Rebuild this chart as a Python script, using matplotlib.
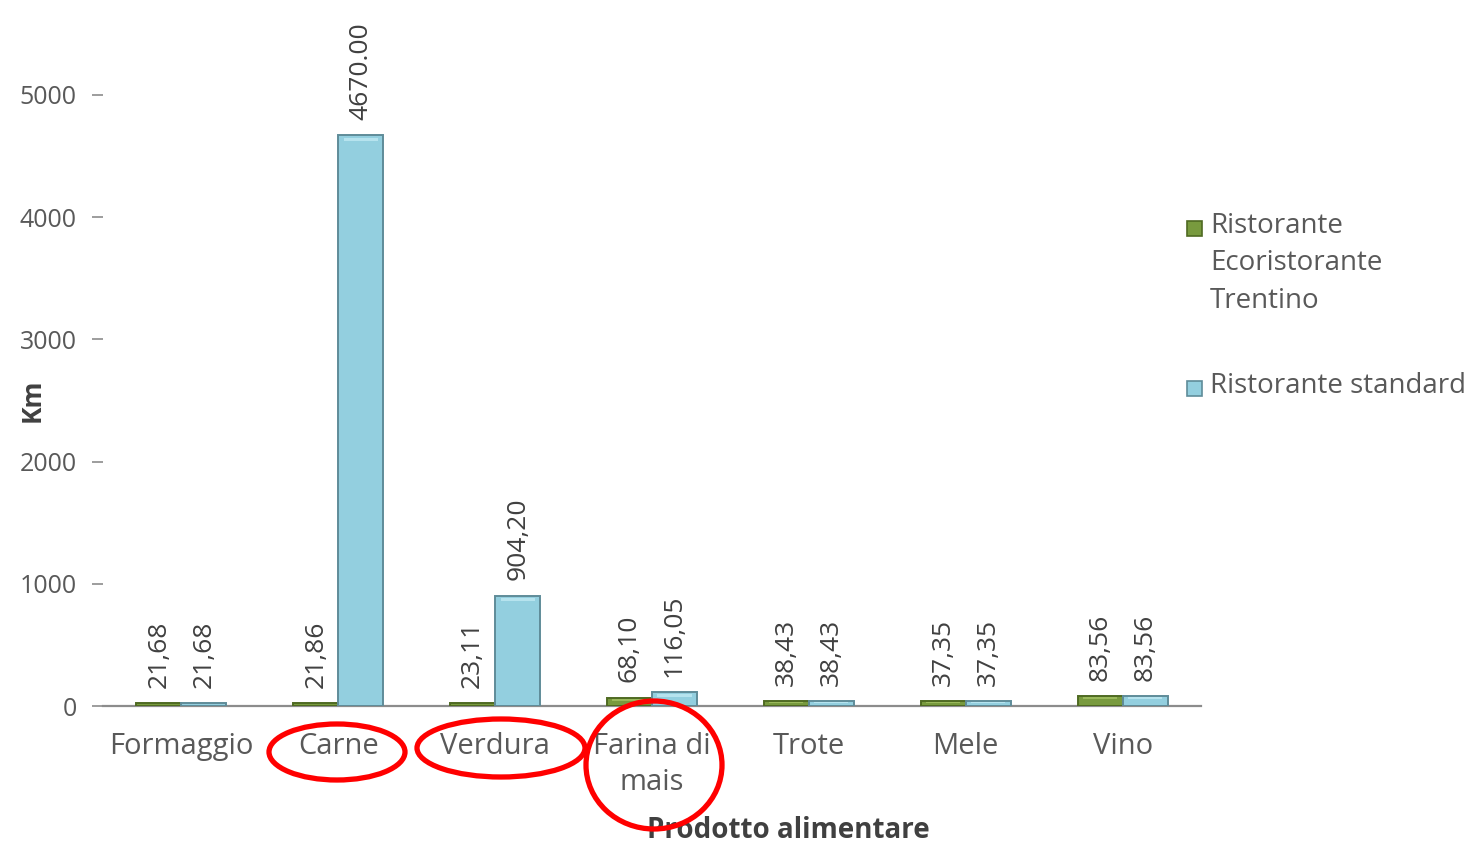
import matplotlib
matplotlib.use("Agg")
import matplotlib.pyplot as plt
from matplotlib.patches import Ellipse, Rectangle
import numpy as np

plt.rcParams['font.family'] = ['Open Sans', 'DejaVu Sans']

categories = ["Formaggio", "Carne", "Verdura", "Farina di\nmais", "Trote", "Mele", "Vino"]
eco_values = [21.68, 21.86, 23.11, 68.10, 38.43, 37.35, 83.56]
std_values = [21.68, 4670.00, 904.20, 116.05, 38.43, 37.35, 83.56]
eco_labels = ["21,68", "21,86", "23,11", "68,10", "38,43", "37,35", "83,56"]
std_labels = ["21,68", "4670.00", "904,20", "116,05", "38,43", "37,35", "83,56"]
series_names = ["Ristorante\nEcoristorante\nTrentino", "Ristorante standard"]
y_ticks = [0, 1000, 2000, 3000, 4000, 5000]

W, H = 1483, 849
fig = plt.figure(figsize=(W / 100, H / 100), dpi=100)
ax = fig.add_axes([103 / W, 143 / H, 1098 / W, 611 / H])

text_col = "#595959"
green_face, green_edge, green_hi = "#789a3e", "#4f6a22", "#a9c76a"
blue_face, blue_edge, blue_hi = "#93cfdf", "#5f8c99", "#c6ecf5"

x = np.arange(len(categories))
bw = 0.287


def bevel_bars(xs, vals, face, edge, hi):
    bars = ax.bar(xs, vals, width=bw, align="edge", color=face, edgecolor=edge,
                  linewidth=1.4, zorder=3)
    # light top strip to give the bars a bevelled look
    for b in bars:
        h = b.get_height()
        strip = min(h * 0.35, 45)
        ax.add_patch(Rectangle((b.get_x() + bw * 0.12, h - strip), bw * 0.76, strip * 0.6,
                               facecolor=hi, edgecolor="none", alpha=0.7, zorder=4))
    return bars


bevel_bars(x - bw, eco_values, green_face, green_edge, green_hi)
bevel_bars(x, std_values, blue_face, blue_edge, blue_hi)

for xi, v, lab in zip(x - bw / 2, eco_values, eco_labels):
    ax.annotate(lab, (xi, v), xytext=(0, 11), textcoords="offset points",
                rotation=90, ha="center", va="bottom", fontsize=19, color="#404040")
for xi, v, lab in zip(x + bw / 2, std_values, std_labels):
    ax.annotate(lab, (xi, v), xytext=(0, 11), textcoords="offset points",
                rotation=90, ha="center", va="bottom", fontsize=19, color="#404040")

ax.set_xlim(-0.5, len(categories) - 0.5)
ax.set_ylim(0, 5000)
ax.set_yticks(y_ticks)
ax.set_yticklabels([str(t) for t in y_ticks])
ax.set_xticks(x)
ax.set_xticklabels(categories, fontsize=21, color=text_col, linespacing=1.3)
ax.tick_params(axis="x", length=0, pad=19)
ax.tick_params(axis="y", length=8, width=1.2, color="#8c8c8c", pad=11,
               labelsize=18, labelcolor=text_col)
for s in ["top", "right", "left"]:
    ax.spines[s].set_visible(False)
ax.spines["bottom"].set_color("#8c8c8c")
ax.spines["bottom"].set_linewidth(1.6)

fig.text(32 / W, 1 - 400 / H, "Km", rotation=90, ha="center", va="center",
         fontsize=19, fontweight="bold", color="#404040")
fig.text(788 / W, 1 - 831 / H, "Prodotto alimentare", ha="center", va="center",
         fontsize=20, fontweight="bold", color="#404040")

# legend
for (ly, name, face, edge) in [(228, series_names[0], green_face, green_edge),
                               (388, series_names[1], blue_face, blue_edge)]:
    fig.patches.append(Rectangle((1187 / W, 1 - (ly + 8) / H), 15 / W, 15 / H,
                                 transform=fig.transFigure, facecolor=face,
                                 edgecolor=edge, linewidth=1.2))
    fig.text(1210 / W, 1 - (ly - 16) / H, name, ha="left", va="top", fontsize=20,
             color=text_col, linespacing=1.45)

# red highlight circles
for cx, cy, ew, eh in [(337, 752, 136, 56), (501, 748, 168, 58), (654, 765, 136, 128)]:
    fig.patches.append(Ellipse((cx / W, 1 - cy / H), ew / W, eh / H,
                               transform=fig.transFigure, facecolor="none",
                               edgecolor="#ff0000", linewidth=3.8, zorder=10))

fig.savefig("out.png", dpi=100)
